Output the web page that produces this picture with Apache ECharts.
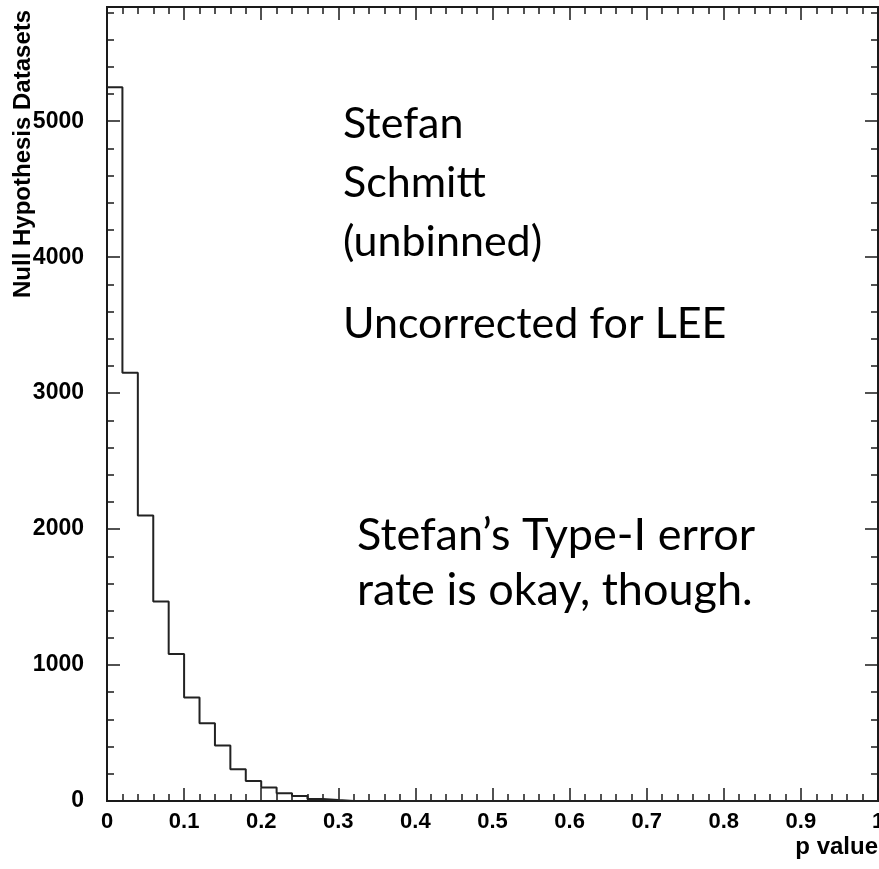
<!DOCTYPE html>
<html>
<head>
<meta charset="utf-8">
<script src="https://cdn.jsdelivr.net/npm/echarts@6/dist/echarts.min.js"></script>
<style>
html,body{margin:0;padding:0;background:#fff;}
#chart{width:879px;height:869px;}
</style>
</head>
<body>
<div id="chart"></div>
<script>
// Histogram of p values (bin width 0.02)
const binLow = [0.00,0.02,0.04,0.06,0.08,0.10,0.12,0.14,0.16,0.18,0.20,0.22,0.24,0.26,0.28,
  0.30,0.32,0.34,0.36,0.38,0.40,0.42,0.44,0.46,0.48,0.50,0.52,0.54,0.56,0.58,
  0.60,0.62,0.64,0.66,0.68,0.70,0.72,0.74,0.76,0.78,0.80,0.82,0.84,0.86,0.88,
  0.90,0.92,0.94,0.96,0.98];
const counts = [5250,3150,2100,1468,1081,762,571,409,233,147,100,57,37,15,7,
  0,0,0,0,0,0,0,0,0,0,0,0,0,0,0,
  0,0,0,0,0,0,0,0,0,0,0,0,0,0,0,
  0,0,0,0,0];
const binWidth = 0.02;
const xTicks = [0,0.1,0.2,0.3,0.4,0.5,0.6,0.7,0.8,0.9,1];
const yTicks = [0,1000,2000,3000,4000,5000];
const yMax = 5840;
const yTitle = 'Null Hypothesis Datasets';
const xTitle = 'p value';
const notes = ['Stefan','Schmitt','(unbinned)','Uncorrected for LEE','Stefan\u2019s Type-I error','rate is okay, though.'];

const histData = binLow.map((x,i)=>[x,counts[i]]);
histData.push([binLow[binLow.length-1]+binWidth, 0]);

const axisCol = '#1a1a1a';
const lblBase = {fontFamily:'"Liberation Sans", Arial, sans-serif', fontWeight:'bold', color:'#000'};

function yAx(pos, interval, len, showLabel){
  return {
    type:'value', position:pos, min:0, max:yMax, interval:interval,
    axisLine:{show:true, onZero:false, lineStyle:{color:axisCol, width:2}},
    axisTick:{show:true, inside:true, length:len, lineStyle:{color:axisCol, width:1.5}},
    axisLabel:{show:showLabel, margin:23, fontSize:23, ...lblBase,
      formatter:v=> yTicks.indexOf(v)>=0 ? String(v) : ''},
    splitLine:{show:false}
  };
}
function xAx(pos, showLabel){
  return {
    type:'value', position:pos, min:0, max:1, interval:0.1,
    axisLine:{show:true, onZero:false, lineStyle:{color:axisCol, width:2}},
    axisTick:{show:true, inside:true, length:13, lineStyle:{color:axisCol, width:1.5}},
    minorTick:{show:true, splitNumber:5, length:7, lineStyle:{color:axisCol, width:1.5}},
    axisLabel:{show:showLabel, margin:10, fontSize:22, ...lblBase,
      formatter:v=>{ const t = xTicks.find(k=>Math.abs(k-v)<1e-9); return t===undefined?'':(t===0||t===1?String(t):t.toFixed(1)); }},
    splitLine:{show:false}
  };
}

const noteFonts = [43,43,43,43,45,45];
const notePos = [[343,124],[343,183],[343,242],[343,324],[357,535],[357,590]];

const chart = echarts.init(document.getElementById('chart'), null, {renderer:'canvas'});
chart.setOption({
  animation:false,
  backgroundColor:'#fff',
  grid:{left:107, right:1, top:7, bottom:68, containLabel:false, outerBoundsMode:'none'},
  xAxis:[xAx('bottom', true), xAx('top', false)],
  yAxis:[yAx('left',1000,13,true), yAx('left',200,7,false), yAx('right',1000,13,false), yAx('right',200,7,false)],
  series:[{
    type:'line', step:'end', xAxisIndex:0, yAxisIndex:0,
    data:histData, showSymbol:false, symbol:'none',
    lineStyle:{color:'#222', width:2}, z:3
  }],
  graphic:[
    {type:'text', x:23, y:298, rotation:Math.PI/2,
      style:{text:yTitle, font:'bold 24px "Liberation Sans", Arial, sans-serif', fill:'#000', align:'left', verticalAlign:'middle'}},
    {type:'text', x:878, y:847,
      style:{text:xTitle, font:'bold 24px "Liberation Sans", Arial, sans-serif', fill:'#000', align:'right', verticalAlign:'middle'}}
  ].concat(notes.map((t,i)=>({type:'text', x:notePos[i][0], y:notePos[i][1],
      style:{text:t, font:noteFonts[i]+'px Lato, "Open Sans", sans-serif', fill:'#000', align:'left', verticalAlign:'middle'}})))
});
</script>
</body>
</html>
